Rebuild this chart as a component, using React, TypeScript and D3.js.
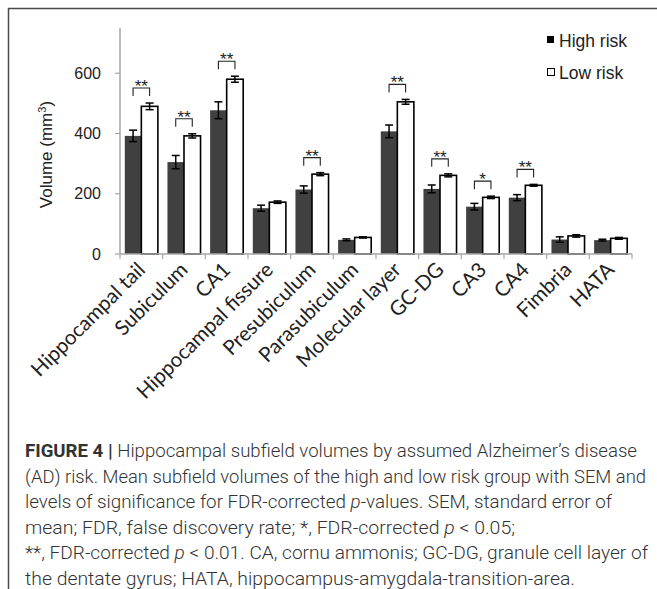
import React from 'react'
import * as d3 from 'd3'

// subfields, left to right
const categories = [
  'Hippocampal tail', 'Subiculum', 'CA1', 'Hippocampal fissure', 'Presubiculum',
  'Parasubiculum', 'Molecular layer', 'GC-DG', 'CA3', 'CA4', 'Fimbria', 'HATA',
]
const seriesNames = ['High risk', 'Low risk']
const highMean = [392, 305, 477, 152, 214, 47, 407, 216, 157, 187, 48, 46]
const highSem = [19, 22, 28, 10, 12, 3, 21, 13, 11, 10, 9, 3]
const lowMean = [490, 392, 580, 172, 265, 55, 505, 261, 188, 228, 60, 52]
const lowSem = [11, 7, 10, 4, 5, 2, 8, 5, 4, 3, 4, 3]
const significance = ['**', '**', '**', '', '**', '', '**', '**', '*', '**', '', '']
const yTicks = [0, 200, 400, 600]

const W = 657
const H = 589
const chartFont = '"Liberation Sans", Arial, sans-serif'
const labelFont = 'Lato, "Open Sans", sans-serif'
const captionFont = 'Roboto, "Liberation Sans", sans-serif'

// caption lines: widths
const captionX = 25
const captionY = 457
const captionStep = 25.5
const captionWidths = [612, 621, 587, 490, 623, 550]

export default function App() {
  const x0 = d3.scaleBand<string>().domain(categories).range([120, 632]).padding(0)
  const x1 = d3.scaleBand<string>().domain(seriesNames).range([0, x0.bandwidth()])
    .paddingInner(0).paddingOuter(0.29)
  const y = d3.scaleLinear().domain([0, 750]).range([254, 28])

  const series = [
    { name: seriesNames[0], mean: highMean, sem: highSem, fill: '#404040', stroke: 'none' },
    { name: seriesNames[1], mean: lowMean, sem: lowSem, fill: '#ffffff', stroke: '#000' },
  ]
  const bw = x1.bandwidth()
  const cap = 4
  const cy = (i: number) => captionY + i * captionStep

  return (
    <svg width={W} height={H} style={{ position: 'absolute', left: 0, top: 0, background: '#fff' }}>
      {/* frame */}
      <line x1={8} x2={W} y1={8.5} y2={8.5} stroke="#4a4a4a" strokeWidth={1.5} />
      <line x1={8.5} x2={8.5} y1={8} y2={H} stroke="#4a4a4a" strokeWidth={1.5} />

      {/* y axis */}
      <line x1={120} x2={120} y1={y(750)} y2={y(0)} stroke="#a6a6a6" strokeWidth={1.5} />
      {yTicks.map(t => (
        <g key={t}>
          <line x1={115} x2={120} y1={y(t)} y2={y(t)} stroke="#a6a6a6" strokeWidth={1.2} />
          <text x={101} y={y(t)} dy="0.36em" textAnchor="end" fontFamily={chartFont}
            fontSize={16} fill="#222">{t}</text>
        </g>
      ))}
      <text transform={`translate(52,${y(330)}) rotate(-90)`} textAnchor="middle"
        fontFamily={chartFont} fontSize={17} fill="#222">
        Volume (mm<tspan dy="-6" fontSize={11}>3</tspan><tspan dy="6">)</tspan>
      </text>

      {/* bars */}
      {series.map(s => (
        <g key={s.name}>
          {categories.map((c, i) => (
            <rect key={c} x={x0(c)! + x1(s.name)!} y={y(s.mean[i])} width={bw}
              height={y(0) - y(s.mean[i])} fill={s.fill} stroke={s.stroke}
              strokeWidth={s.stroke === 'none' ? 0 : 1.6} />
          ))}
        </g>
      ))}

      {/* x axis */}
      <line x1={120} x2={632} y1={y(0)} y2={y(0)} stroke="#a6a6a6" strokeWidth={1.5} />
      {[...categories.map(c => x0(c)!), 632].map((t, i) => (
        <line key={i} x1={t} x2={t} y1={y(0)} y2={y(0) + 5} stroke="#a6a6a6" strokeWidth={1.2} />
      ))}

      {/* error bars */}
      {series.map(s => (
        <g key={s.name + '-err'} stroke="#000" strokeWidth={1.5}>
          {categories.map((c, i) => {
            const cx = x0(c)! + x1(s.name)! + bw / 2
            const top = y(s.mean[i] + s.sem[i])
            const bot = y(s.mean[i] - s.sem[i])
            return (
              <g key={c}>
                <line x1={cx} x2={cx} y1={top} y2={bot} />
                <line x1={cx - cap} x2={cx + cap} y1={top} y2={top} />
                <line x1={cx - cap} x2={cx + cap} y1={bot} y2={bot} />
              </g>
            )
          })}
        </g>
      ))}

      {/* significance brackets */}
      {categories.map((c, i) => {
        if (!significance[i]) return null
        const xa = x0(c)! + x1(seriesNames[0])! + bw / 2
        const xb = x0(c)! + x1(seriesNames[1])! + bw / 2
        const top = Math.min(y(highMean[i] + highSem[i]), y(lowMean[i] + lowSem[i])) - 15
        return (
          <g key={c + '-sig'}>
            <path d={`M${xa},${top + 8}V${top}H${xb}V${top + 8}`} fill="none" stroke="#222" strokeWidth={1.1} />
            <text x={(xa + xb) / 2} y={top + 4} textAnchor="middle" fontFamily={chartFont}
              fontSize={17} fill="#222">{significance[i]}</text>
          </g>
        )
      })}

      {/* x labels */}
      {categories.map(c => {
        const cx = x0(c)! + x0.bandwidth() / 2 + 5
        return (
          <text key={c + '-lab'} transform={`translate(${cx},271) rotate(-45)`} textAnchor="end"
            fontFamily={labelFont} fontSize={20.5} fill="#222">{c}</text>
        )
      })}

      {/* legend */}
      <rect x={547} y={36} width={7} height={7} fill="#000" />
      <text x={559} y={46.5} fontFamily={chartFont} fontSize={17.5} fill="#222">{seriesNames[0]}</text>
      <rect x={547.5} y={68.5} width={7} height={7} fill="#fff" stroke="#000" strokeWidth={1} />
      <text x={559} y={78.5} fontFamily={chartFont} fontSize={17.5} fill="#222">{seriesNames[1]}</text>

      {/* caption */}
      <g fontFamily={captionFont} fontSize={17.5} fontWeight={300} fill="#333">
        <text x={captionX} y={cy(0)} textLength={captionWidths[0]} lengthAdjust="spacingAndGlyphs">
          <tspan fontWeight={700}>FIGURE 4 | </tspan>Hippocampal subfield volumes by assumed Alzheimer’s disease
        </text>
        <text x={captionX} y={cy(1)} textLength={captionWidths[1]} lengthAdjust="spacingAndGlyphs">
          (AD) risk. Mean subfield volumes of the high and low risk group with SEM and
        </text>
        <text x={captionX} y={cy(2)} textLength={captionWidths[2]} lengthAdjust="spacingAndGlyphs">
          levels of significance for FDR-corrected <tspan fontStyle="italic">p</tspan>-values. SEM, standard error of
        </text>
        <text x={captionX} y={cy(3)} textLength={captionWidths[3]} lengthAdjust="spacingAndGlyphs">
          mean; FDR, false discovery rate; *, FDR-corrected <tspan fontStyle="italic">p</tspan> {'<'} 0.05;
        </text>
        <text x={captionX} y={cy(4)} textLength={captionWidths[4]} lengthAdjust="spacingAndGlyphs">
          **, FDR-corrected <tspan fontStyle="italic">p</tspan> {'<'} 0.01. CA, cornu ammonis; GC-DG, granule cell layer of
        </text>
        <text x={captionX} y={cy(5)} textLength={captionWidths[5]} lengthAdjust="spacingAndGlyphs">
          the dentate gyrus; HATA, hippocampus-amygdala-transition-area.
        </text>
      </g>
    </svg>
  )
}
